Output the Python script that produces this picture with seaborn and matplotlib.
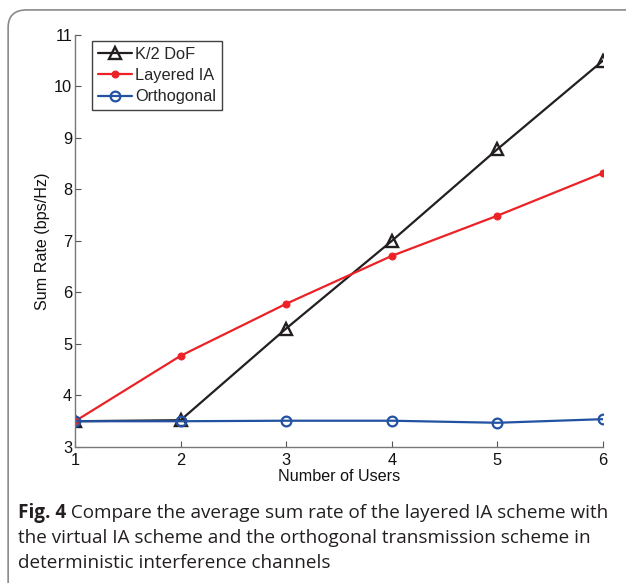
import numpy as np
import pandas as pd
import seaborn as sns
import matplotlib.pyplot as plt
from matplotlib.patches import FancyBboxPatch
from matplotlib.transforms import offset_copy

# Data
users = [1, 2, 3, 4, 5, 6]
k2_dof = [3.50, 3.52, 5.30, 7.00, 8.78, 10.50]
layered_ia = [3.50, 4.77, 5.78, 6.71, 7.49, 8.32]
orthogonal = [3.50, 3.50, 3.51, 3.51, 3.47, 3.54]

sns.set_theme(style="ticks")
plt.rcParams['font.family'] = ['Liberation Sans', 'DejaVu Sans']

fig = plt.figure(figsize=(6.26, 5.83), dpi=100)
ax = fig.add_axes([0.1198, 0.2333, 0.8432, 0.7067])

# Frame around the figure (as in the journal layout)
frame = FancyBboxPatch((0.013, -0.1), 1.2, 1.083, boxstyle="round,pad=0,rounding_size=0.03",
                       transform=fig.transFigure, facecolor="none", edgecolor="#8a8a8a",
                       linewidth=1.2, clip_on=False)
fig.patches.append(frame)

sns.lineplot(x=users, y=k2_dof, ax=ax, color="#231f20", marker="^", markersize=8.5,
             markerfacecolor="none", markeredgecolor="#231f20", markeredgewidth=1.7,
             linewidth=1.6, label="K/2 DoF")
sns.lineplot(x=users, y=layered_ia, ax=ax, color="#ec2227", marker="o", markersize=5,
             markeredgecolor="#ec2227", linewidth=1.6, label="Layered IA")
sns.lineplot(x=users, y=orthogonal, ax=ax, color="#2352a2", marker="o", markersize=7,
             markerfacecolor="none", markeredgecolor="#2352a2", markeredgewidth=1.6,
             linewidth=1.6, label="Orthogonal")

ax.set_xlim(1, 6)
ax.set_ylim(3, 11)
ax.set_xticks(users)
ax.set_yticks(range(3, 12))
ax.tick_params(direction="in", length=4, width=0.8, color="#555555", labelsize=11.8,
               labelcolor="#111111")
ax.tick_params(axis="x", pad=4)
ax.tick_params(axis="y", pad=2)
sns.despine(ax=ax)
for s in ["left", "bottom"]:
    ax.spines[s].set_color("#777777")
    ax.spines[s].set_linewidth(1.0)

ax.set_xlabel("Number of Users", fontsize=11.6, labelpad=1, color="#111111")
ax.set_ylabel("Sum Rate (bps/Hz)", fontsize=11.6, labelpad=3, color="#111111")

leg = ax.legend(loc="upper left", bbox_to_anchor=(0.032, 0.985), fontsize=11.8, frameon=True,
                fancybox=False, edgecolor="#111111", handlelength=2.1, handletextpad=0.2,
                borderpad=0.35, labelspacing=0.38, borderaxespad=0)
leg.get_frame().set_linewidth(1.0)

# Caption
cap_font = ['Open Sans', 'DejaVu Sans']
cap_size = 13.6
t0 = fig.text(0.029, 0.112, "Fig. 4", fontsize=cap_size, fontweight="bold", family=cap_font,
              color="#231f20")
fig.canvas.draw()
w = t0.get_window_extent().width
fig.text(0.029, 0.112, " Compare the average sum rate of the layered IA scheme with",
         fontsize=cap_size, family=cap_font, color="#231f20",
         transform=offset_copy(fig.transFigure, fig=fig, x=w, y=0, units="dots"))
fig.text(0.029, 0.069, "the virtual IA scheme and the orthogonal transmission scheme in",
         fontsize=cap_size, family=cap_font, color="#231f20")
fig.text(0.029, 0.026, "deterministic interference channels",
         fontsize=cap_size, family=cap_font, color="#231f20")

fig.savefig("out.png", dpi=100)
